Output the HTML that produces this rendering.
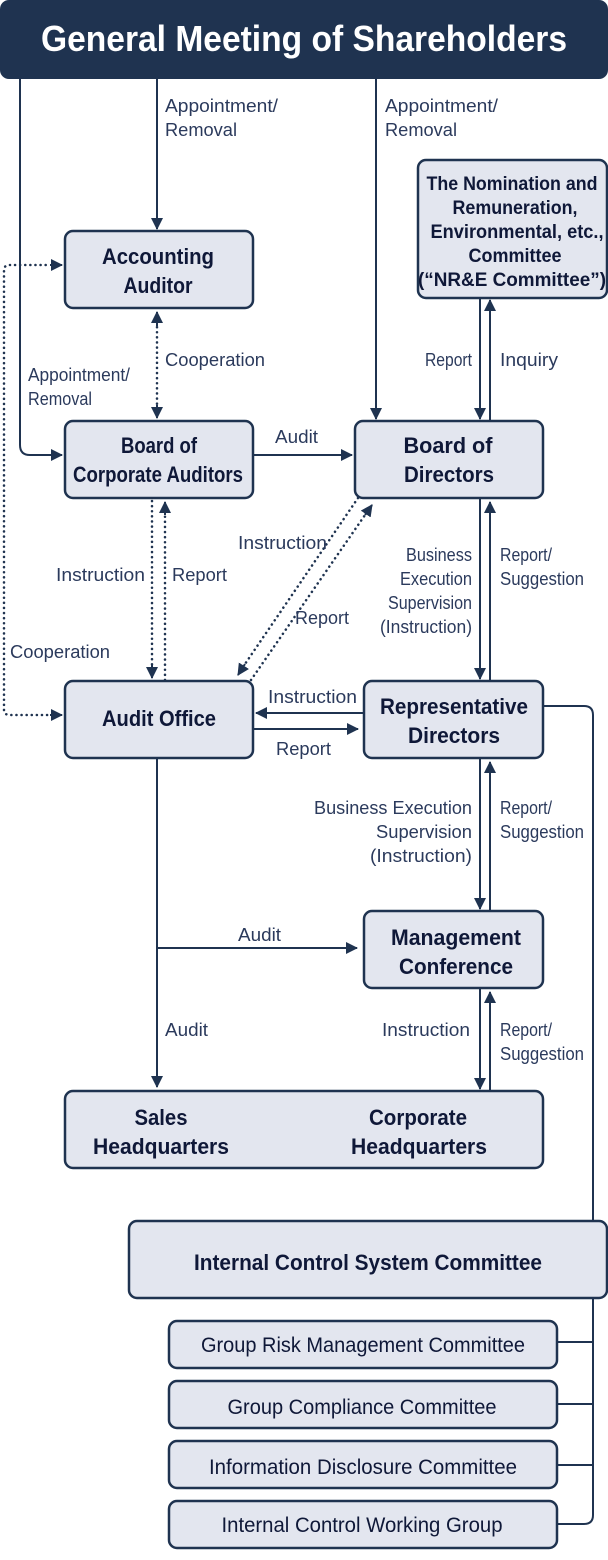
<!DOCTYPE html>
<html><head><meta charset="utf-8"><style>
html,body{margin:0;padding:0;background:#fff}
svg{display:block}
.b{font-family:"Liberation Sans Narrow","Liberation Sans",sans-serif;font-weight:bold;font-size:22px;fill:#0f1838;text-anchor:middle}
.l{font-family:"Liberation Sans Narrow","Liberation Sans",sans-serif;font-size:18px;fill:#2b3a5c}
.s{font-family:"Liberation Sans Narrow","Liberation Sans",sans-serif;font-size:21px;fill:#0f1838;text-anchor:middle}
.e{text-anchor:end}
.box{fill:#e3e6ef;stroke:#1f3350;stroke-width:2.5}
.ln{stroke:#1f3350;stroke-width:2;fill:none}
.dt{stroke:#1f3350;stroke-width:2.5;fill:none;stroke-dasharray:0.1 5;stroke-linecap:round}
</style></head><body>
<svg width="608" height="1560" viewBox="0 0 608 1560" xmlns="http://www.w3.org/2000/svg">
<defs>
<marker id="a" viewBox="0 0 12 12" refX="11" refY="6" markerWidth="12" markerHeight="12" markerUnits="userSpaceOnUse" orient="auto"><path d="M0,0 L12,6 L0,12 z" fill="#1f3350"/></marker>
</defs>
<rect x="0" y="0" width="608" height="79" rx="9" fill="#1f3350"/>
<text x="304" y="51" textLength="526" lengthAdjust="spacingAndGlyphs" style="font-family:'Liberation Sans Narrow','Liberation Sans',sans-serif;font-weight:bold;font-size:36px;fill:#fff;text-anchor:middle">General Meeting of Shareholders</text>

<!-- connectors -->
<path class="ln" d="M20,79 V445 Q20,455 30,455 H62" marker-end="url(#a)"/>
<path class="ln" d="M157,79 V229" marker-end="url(#a)"/>
<path class="ln" d="M376,79 V419" marker-end="url(#a)"/>
<path class="dt" d="M157,322 V405"/>
<path class="ln" d="M157,326 V312" marker-end="url(#a)"/>
<path class="ln" d="M157,405 V418" marker-end="url(#a)"/>
<path class="ln" d="M253,455 H352" marker-end="url(#a)"/>
<path class="ln" d="M480,299 V419" marker-end="url(#a)"/>
<path class="ln" d="M490,421 V300" marker-end="url(#a)"/>
<path class="dt" d="M4,710 Q4,715 10,715 H50 M4,710 V270 Q4,265 10,265 H50"/>
<path class="ln" d="M50,265 H62" marker-end="url(#a)"/>
<path class="ln" d="M50,715 H62" marker-end="url(#a)"/>
<path class="dt" d="M152,501 V666"/>
<path class="ln" d="M152,665 V678" marker-end="url(#a)"/>
<path class="dt" d="M165,680 V515"/>
<path class="ln" d="M165,515 V502" marker-end="url(#a)"/>
<path class="dt" d="M358,498 L245,664"/>
<path class="ln" d="M245,664 L238,675" marker-end="url(#a)"/>
<path class="dt" d="M251,680 L365,515"/>
<path class="ln" d="M365,515 L372,505" marker-end="url(#a)"/>
<path class="ln" d="M480,498 V679" marker-end="url(#a)"/>
<path class="ln" d="M490,681 V502" marker-end="url(#a)"/>
<path class="ln" d="M364,713 H256" marker-end="url(#a)"/>
<path class="ln" d="M253,729 H358" marker-end="url(#a)"/>
<path class="ln" d="M480,758 V909" marker-end="url(#a)"/>
<path class="ln" d="M490,911 V762" marker-end="url(#a)"/>
<path class="ln" d="M157,758 V1087" marker-end="url(#a)"/>
<path class="ln" d="M157,948 H357" marker-end="url(#a)"/>
<path class="ln" d="M480,988 V1089" marker-end="url(#a)"/>
<path class="ln" d="M490,1091 V992" marker-end="url(#a)"/>
<path class="ln" d="M543,706 H584 Q593,706 593,715 V1515 Q593,1524 584,1524 H557"/>
<path class="ln" d="M557,1342 H593 M557,1404 H593 M557,1465 H593"/>

<!-- boxes -->
<rect class="box" x="65" y="231" width="188" height="77" rx="8"/>
<rect class="box" x="418" y="160" width="189" height="138" rx="8"/>
<rect class="box" x="65" y="421" width="188" height="77" rx="8"/>
<rect class="box" x="355" y="421" width="188" height="77" rx="8"/>
<rect class="box" x="65" y="681" width="188" height="77" rx="8"/>
<rect class="box" x="364" y="681" width="179" height="77" rx="8"/>
<rect class="box" x="364" y="911" width="179" height="77" rx="8"/>
<rect class="box" x="65" y="1091" width="478" height="77" rx="8"/>
<rect class="box" x="129" y="1221" width="478" height="77" rx="8"/>
<rect class="box" x="169" y="1321" width="388" height="47" rx="8"/>
<rect class="box" x="169" y="1381" width="388" height="47" rx="8"/>
<rect class="box" x="169" y="1441" width="388" height="47" rx="8"/>
<rect class="box" x="169" y="1501" width="388" height="47" rx="8"/>

<!-- box text -->
<text class="b" x="158" y="264" textLength="112" lengthAdjust="spacingAndGlyphs">Accounting</text>
<text class="b" x="158" y="293" textLength="69" lengthAdjust="spacingAndGlyphs">Auditor</text>
<text class="b" x="512" y="190" style="font-size:19px" textLength="171" lengthAdjust="spacingAndGlyphs">The Nomination and</text>
<text class="b" x="515" y="214" style="font-size:19px" textLength="125" lengthAdjust="spacingAndGlyphs">Remuneration,</text>
<text class="b" x="517" y="238" style="font-size:19px" textLength="173" lengthAdjust="spacingAndGlyphs">Environmental, etc.,</text>
<text class="b" x="515" y="262" style="font-size:19px" textLength="93" lengthAdjust="spacingAndGlyphs">Committee</text>
<text class="b" x="512" y="286" style="font-size:19px" textLength="188" lengthAdjust="spacingAndGlyphs">(“NR&amp;E Committee”)</text>
<text class="b" x="159" y="453" textLength="76" lengthAdjust="spacingAndGlyphs">Board of</text>
<text class="b" x="158" y="482" textLength="170" lengthAdjust="spacingAndGlyphs">Corporate Auditors</text>
<text class="b" x="448" y="453" textLength="89" lengthAdjust="spacingAndGlyphs">Board of</text>
<text class="b" x="449" y="482" textLength="90" lengthAdjust="spacingAndGlyphs">Directors</text>
<text class="b" x="159" y="726" textLength="114" lengthAdjust="spacingAndGlyphs">Audit Office</text>
<text class="b" x="454" y="714" textLength="148" lengthAdjust="spacingAndGlyphs">Representative</text>
<text class="b" x="454" y="743" textLength="92" lengthAdjust="spacingAndGlyphs">Directors</text>
<text class="b" x="456" y="945" textLength="130" lengthAdjust="spacingAndGlyphs">Management</text>
<text class="b" x="456" y="974" textLength="114" lengthAdjust="spacingAndGlyphs">Conference</text>
<text class="b" x="161" y="1125" textLength="53" lengthAdjust="spacingAndGlyphs">Sales</text>
<text class="b" x="161" y="1154" textLength="136" lengthAdjust="spacingAndGlyphs">Headquarters</text>
<text class="b" x="418" y="1125" textLength="98" lengthAdjust="spacingAndGlyphs">Corporate</text>
<text class="b" x="419" y="1154" textLength="136" lengthAdjust="spacingAndGlyphs">Headquarters</text>
<text class="b" x="368" y="1270" textLength="348" lengthAdjust="spacingAndGlyphs">Internal Control System Committee</text>
<text class="s" x="363" y="1352" textLength="324" lengthAdjust="spacingAndGlyphs">Group Risk Management Committee</text>
<text class="s" x="362" y="1414" textLength="269" lengthAdjust="spacingAndGlyphs">Group Compliance Committee</text>
<text class="s" x="363" y="1474" textLength="308" lengthAdjust="spacingAndGlyphs">Information Disclosure Committee</text>
<text class="s" x="362" y="1532" textLength="281" lengthAdjust="spacingAndGlyphs">Internal Control Working Group</text>

<!-- labels -->
<text class="l" x="165" y="112" textLength="113" lengthAdjust="spacingAndGlyphs">Appointment/</text>
<text class="l" x="165" y="136" textLength="72" lengthAdjust="spacingAndGlyphs">Removal</text>
<text class="l" x="385" y="112" textLength="113" lengthAdjust="spacingAndGlyphs">Appointment/</text>
<text class="l" x="385" y="136" textLength="72" lengthAdjust="spacingAndGlyphs">Removal</text>
<text class="l" x="28" y="381" textLength="102" lengthAdjust="spacingAndGlyphs">Appointment/</text>
<text class="l" x="28" y="405" textLength="64" lengthAdjust="spacingAndGlyphs">Removal</text>
<text class="l" x="165" y="366" textLength="100" lengthAdjust="spacingAndGlyphs">Cooperation</text>
<text class="l e" x="472" y="366" textLength="47" lengthAdjust="spacingAndGlyphs">Report</text>
<text class="l" x="500" y="366" textLength="58" lengthAdjust="spacingAndGlyphs">Inquiry</text>
<text class="l" x="275" y="443" textLength="43" lengthAdjust="spacingAndGlyphs">Audit</text>
<text class="l e" x="145" y="581" textLength="89" lengthAdjust="spacingAndGlyphs">Instruction</text>
<text class="l" x="172" y="581" textLength="55" lengthAdjust="spacingAndGlyphs">Report</text>
<text class="l" x="238" y="549" textLength="89" lengthAdjust="spacingAndGlyphs">Instruction</text>
<text class="l" x="295" y="624" textLength="54" lengthAdjust="spacingAndGlyphs">Report</text>
<text class="l" x="10" y="658" textLength="100" lengthAdjust="spacingAndGlyphs">Cooperation</text>
<text class="l e" x="472" y="561" textLength="66" lengthAdjust="spacingAndGlyphs">Business</text>
<text class="l e" x="472" y="585" textLength="72" lengthAdjust="spacingAndGlyphs">Execution</text>
<text class="l e" x="472" y="609" textLength="84" lengthAdjust="spacingAndGlyphs">Supervision</text>
<text class="l e" x="472" y="633" textLength="92" lengthAdjust="spacingAndGlyphs">(Instruction)</text>
<text class="l" x="500" y="561" textLength="52" lengthAdjust="spacingAndGlyphs">Report/</text>
<text class="l" x="500" y="585" textLength="84" lengthAdjust="spacingAndGlyphs">Suggestion</text>
<text class="l" x="268" y="703" textLength="89" lengthAdjust="spacingAndGlyphs">Instruction</text>
<text class="l" x="276" y="755" textLength="55" lengthAdjust="spacingAndGlyphs">Report</text>
<text class="l e" x="472" y="814" textLength="158" lengthAdjust="spacingAndGlyphs">Business Execution</text>
<text class="l e" x="472" y="838" textLength="96" lengthAdjust="spacingAndGlyphs">Supervision</text>
<text class="l e" x="472" y="862" textLength="102" lengthAdjust="spacingAndGlyphs">(Instruction)</text>
<text class="l" x="500" y="814" textLength="52" lengthAdjust="spacingAndGlyphs">Report/</text>
<text class="l" x="500" y="838" textLength="84" lengthAdjust="spacingAndGlyphs">Suggestion</text>
<text class="l" x="238" y="941" textLength="43" lengthAdjust="spacingAndGlyphs">Audit</text>
<text class="l" x="165" y="1036" textLength="43" lengthAdjust="spacingAndGlyphs">Audit</text>
<text class="l e" x="470" y="1036" textLength="88" lengthAdjust="spacingAndGlyphs">Instruction</text>
<text class="l" x="500" y="1036" textLength="52" lengthAdjust="spacingAndGlyphs">Report/</text>
<text class="l" x="500" y="1060" textLength="84" lengthAdjust="spacingAndGlyphs">Suggestion</text>
</svg>
</body></html>
